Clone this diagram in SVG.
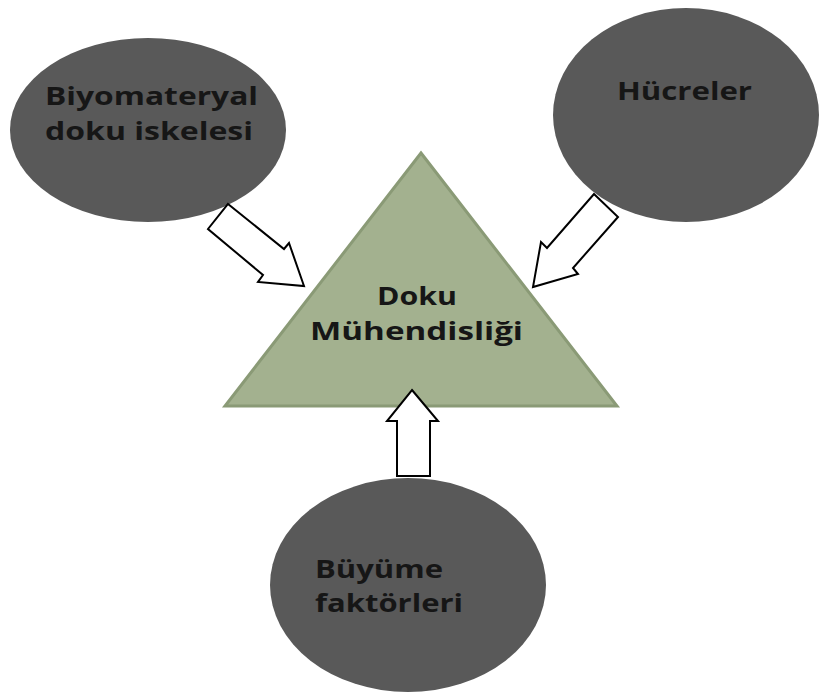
<svg xmlns="http://www.w3.org/2000/svg" width="821" height="696" viewBox="0 0 821 696">
<style>
.blob{fill:#595959;}
.lbl{font-family:"Open Sans","Noto Sans","Liberation Sans",sans-serif;font-weight:bold;font-size:25px;fill:#161616;}
.arr{fill:#ffffff;stroke:#000000;stroke-width:2;stroke-linejoin:miter;}
.tri{fill:#a3b18f;stroke:#8a9a76;stroke-width:3;stroke-linejoin:miter;}
</style>
<rect width="821" height="696" fill="#ffffff"/>
<g id="node-biyomateryal">
<ellipse class="blob" cx="148" cy="130" rx="138" ry="92"/>
<text class="lbl" x="45" y="105" textLength="213" lengthAdjust="spacingAndGlyphs">Biyomateryal</text>
<text class="lbl" x="45" y="140" textLength="208" lengthAdjust="spacingAndGlyphs">doku iskelesi</text>
</g>
<g id="node-hucreler">
<ellipse class="blob" cx="686" cy="115" rx="133" ry="107"/>
<text class="lbl" x="617" y="100" textLength="135" lengthAdjust="spacingAndGlyphs">Hücreler</text>
</g>
<g id="node-doku">
<polygon class="tri" points="421,153 617,406 225,406"/>
<text class="lbl" x="377" y="305" textLength="80" lengthAdjust="spacingAndGlyphs">Doku</text>
<text class="lbl" x="310" y="340" textLength="213" lengthAdjust="spacingAndGlyphs">Mühendisliği</text>
</g>
<g id="node-buyume">
<ellipse class="blob" cx="408" cy="585" rx="138" ry="107"/>
<text class="lbl" x="315" y="578" textLength="128" lengthAdjust="spacingAndGlyphs">Büyüme</text>
<text class="lbl" x="315" y="612" textLength="148" lengthAdjust="spacingAndGlyphs">faktörleri</text>
</g>
<g id="connectors">
<polygon class="arr" points="228,204 284,249 289,243 304,286 258,282 263,275 208,229"/>
<polygon class="arr" points="594,194 618,217 573,268 578,274 533,287 541,242 547,248"/>
<polygon class="arr" points="412,390 438,421 430,421 430,476 397,476 397,421 387,421"/>
</g>
</svg>
